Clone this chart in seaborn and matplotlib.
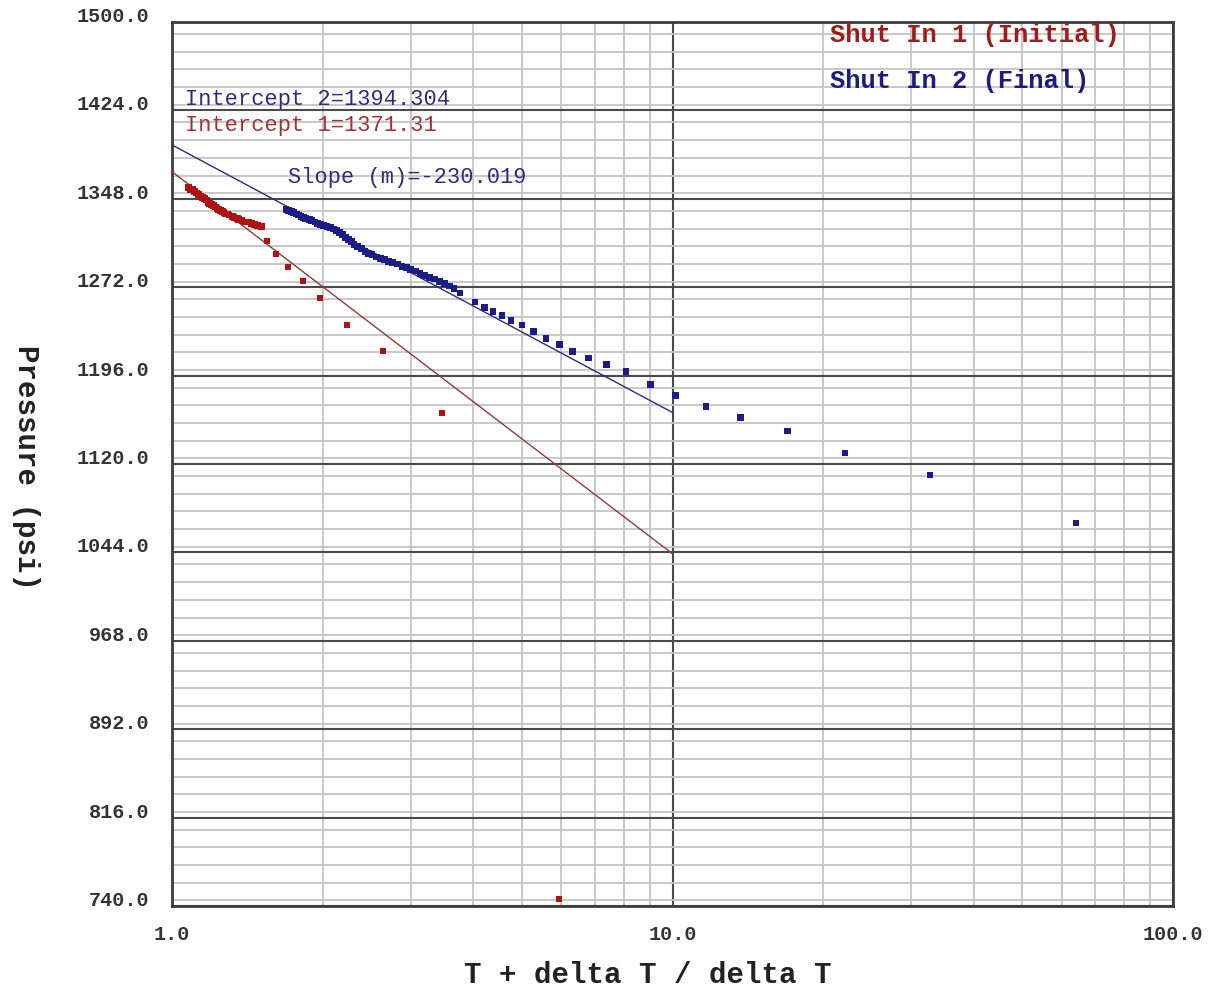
import numpy as np
import pandas as pd
import matplotlib
matplotlib.use("Agg")
import matplotlib.pyplot as plt
from matplotlib.ticker import FixedLocator, MultipleLocator, LogLocator, NullFormatter
import seaborn as sns

# ---- Horner plot data: Horner time ratio vs pressure (psi) ----
shutin1_horner = [1.08, 1.09, 1.10, 1.11, 1.12, 1.13, 1.14, 1.15, 1.16, 1.17,
                  1.18, 1.19, 1.20, 1.21, 1.22, 1.23, 1.24, 1.25, 1.26, 1.27,
                  1.28, 1.29, 1.30, 1.32, 1.33, 1.35, 1.36, 1.38, 1.40, 1.42,
                  1.44, 1.46, 1.48, 1.51,
                  1.548, 1.613, 1.705, 1.827, 1.976, 2.237, 2.640, 3.463, 5.934]
shutin1_pressure = [1358, 1356, 1356, 1354, 1353, 1352, 1350, 1349, 1348, 1347,
                    1345, 1344, 1343, 1342, 1341, 1340, 1339, 1338, 1337, 1336,
                    1335, 1335, 1334, 1333, 1332, 1331, 1330, 1329, 1328, 1328,
                    1327, 1326, 1325, 1324,
                    1311.7, 1300.5, 1289.4, 1277.3, 1262.7, 1239.5, 1217.2, 1163.9, 746.0]

shutin2_horner = [1.69, 1.71, 1.73, 1.75, 1.77, 1.79, 1.81, 1.83, 1.85, 1.88,
                  1.90, 1.93, 1.95, 1.98, 2.01, 2.04, 2.07, 2.10, 2.13, 2.16,
                  2.19, 2.22, 2.25, 2.28, 2.31, 2.35, 2.39, 2.43, 2.47, 2.51,
                  2.56, 2.61, 2.66, 2.71, 2.76, 2.82, 2.88, 2.94, 3.00, 3.06,
                  3.13, 3.20, 3.27, 3.34, 3.42, 3.50, 3.58, 3.66,
                  3.763, 4.032, 4.207, 4.380, 4.563, 4.757, 5.004, 5.272, 5.589,
                  5.953, 6.319, 6.803, 7.376, 8.074, 9.045, 10.13, 11.67, 13.69,
                  16.96, 22.12, 32.70, 64.01]
shutin2_pressure = [1339, 1338, 1337, 1336, 1335, 1334, 1333, 1332, 1331, 1330,
                    1329, 1328, 1327, 1326, 1325, 1324, 1323, 1322, 1321, 1319,
                    1317, 1315, 1313, 1311, 1309, 1307, 1305, 1303, 1301, 1300,
                    1298, 1297, 1296, 1294, 1293, 1292, 1290, 1289, 1287, 1286,
                    1284, 1282, 1280, 1279, 1277, 1275, 1273, 1271,
                    1267.0, 1259.3, 1254.4, 1250.9, 1247.5, 1243.2, 1239.5, 1233.7, 1228.1,
                    1222.6, 1216.9, 1211.1, 1205.4, 1199.4, 1188.2, 1178.7, 1169.3, 1159.8,
                    1148.4, 1129.5, 1110.5, 1069.3]

# Straight-line fits on the semilog plot: p = intercept + slope * log10(ratio)
intercept_1 = 1371.31
slope_1 = -328.5
intercept_2 = 1394.304
slope_2 = -230.019
fit_x = [1.0, 10.0]

y_ticks = [740.0, 816.0, 892.0, 968.0, 1044.0, 1120.0, 1196.0, 1272.0, 1348.0, 1424.0, 1500.0]
x_ticks = [1.0, 10.0, 100.0]
x_tick_labels = ["1.0", "10.0", "100.0"]

RED = "#ac1414"
BLUE = "#1c1c86"
RED_LINE = "#8e3a3a"
BLUE_LINE = "#2c2c7a"

sns.set_style("white")
plt.rcParams["font.family"] = ["Liberation Mono", "DejaVu Sans Mono"]

df = pd.DataFrame({
    "horner": shutin1_horner + shutin2_horner,
    "pressure": shutin1_pressure + shutin2_pressure,
    "series": ["Shut In 1"] * len(shutin1_horner) + ["Shut In 2"] * len(shutin2_horner),
})

fig = plt.figure(figsize=(12.25, 9.9), dpi=100)
W, H = 1225, 990
ax = fig.add_axes([172 / W, 1 - 906 / H, (1173 - 172) / W, (906 - 22) / H])

ax.set_xscale("log")
ax.set_xlim(1, 100)
ax.set_ylim(740, 1500)

# grid: light minor lines, darker majors
ax.xaxis.set_major_locator(FixedLocator(x_ticks))
ax.xaxis.set_minor_locator(LogLocator(base=10, subs=np.arange(2, 10)))
ax.xaxis.set_minor_formatter(NullFormatter())
ax.yaxis.set_major_locator(FixedLocator(y_ticks))
ax.yaxis.set_minor_locator(MultipleLocator(15.2))
ax.grid(which="minor", color="#c4c4c4", linewidth=1.3)
ax.grid(which="major", color="#4a4a4a", linewidth=1.5)
ax.set_axisbelow(True)

# fitted lines
sns.lineplot(x=fit_x, y=[intercept_1 + slope_1 * np.log10(v) for v in fit_x],
             color=RED_LINE, linewidth=1.0, ax=ax, zorder=3)
sns.lineplot(x=fit_x, y=[intercept_2 + slope_2 * np.log10(v) for v in fit_x],
             color=BLUE_LINE, linewidth=1.0, ax=ax, zorder=3)

sns.scatterplot(data=df, x="horner", y="pressure", hue="series",
                palette={"Shut In 1": RED, "Shut In 2": BLUE},
                marker="s", s=24, linewidth=0, legend=False, ax=ax, zorder=4)

for sp in ax.spines.values():
    sp.set_color("#3c3c3c")
    sp.set_linewidth(2.0)

ax.set_xticks(x_ticks)
ax.set_xticklabels(x_tick_labels)
ax.set_yticks(y_ticks)
ax.set_yticklabels([f"{v:.1f}" for v in y_ticks])
ax.tick_params(axis="x", which="both", length=0, pad=14, labelsize=14.5, labelcolor="#333333")
ax.tick_params(axis="y", which="major", length=0, pad=16, labelsize=14.5, labelcolor="#333333")
ax.tick_params(axis="y", which="minor", length=3, width=1, color="#555555", direction="out")
for lab in ax.get_xticklabels() + ax.get_yticklabels():
    lab.set_fontweight("bold")
for lab in ax.get_yticklabels():
    lab.set_verticalalignment("baseline")

ax.set_xlabel("")
ax.set_ylabel("")
fig.text(648 / W, 1 - 975 / H, "T + delta T / delta T", ha="center", va="center",
         fontsize=21, fontweight="bold", color="#222222")
fig.text(26 / W, 1 - 468 / H, "Pressure (psi)", ha="center", va="center",
         rotation=-90, fontsize=21, fontweight="bold", color="#222222")

# annotations
fig.text(185 / W, 1 - 100 / H, f"Intercept 2={intercept_2}", ha="left", va="center",
         fontsize=15.8, color=BLUE_LINE)
fig.text(185 / W, 1 - 126 / H, f"Intercept 1={intercept_1}", ha="left", va="center",
         fontsize=15.8, color="#a03434")
fig.text(288 / W, 1 - 177 / H, f"Slope (m)={slope_2}", ha="left", va="center",
         fontsize=15.8, color=BLUE_LINE)

fig.text(830 / W, 1 - 35 / H, "Shut In 1 (Initial)", ha="left", va="center",
         fontsize=18.4, fontweight="bold", color="#a01c1c")
fig.text(830 / W, 1 - 81 / H, "Shut In 2 (Final)", ha="left", va="center",
         fontsize=18.4, fontweight="bold", color="#1c1c80")

fig.savefig("out.png", dpi=100, facecolor="white")
